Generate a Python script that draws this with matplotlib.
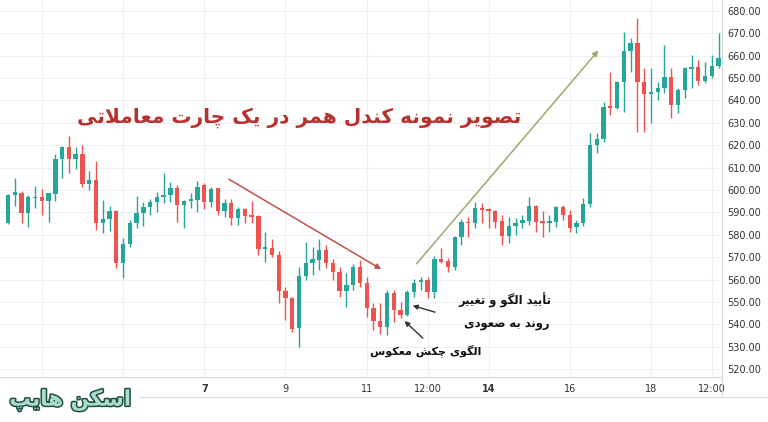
import matplotlib
matplotlib.use("Agg")
import matplotlib.pyplot as plt
import matplotlib.patheffects as pe
from matplotlib.lines import Line2D

# 4h candles
opens = [585.4, 597.8, 598.8, 589.6, 596.3, 597.0, 595.1, 598.2, 613.7, 619.1,
         613.7, 616.1, 602.7, 604.5, 585.4, 586.9, 590.8, 567.3, 575.9, 585.1,
         589.6, 592.5, 594.8, 597.0, 597.8, 600.8, 593.3, 595.1, 595.5, 602.2,
         594.8, 600.8, 590.8, 594.3, 587.4, 591.4, 588.8, 588.4, 573.7, 574.0,
         571.0, 554.9, 551.9, 538.3, 561.8, 567.6, 568.9, 573.2, 567.6, 563.5,
         554.9, 557.6, 565.5, 558.6, 547.2, 541.7, 539.0, 554.2, 546.5, 544.2,
         554.6, 559.1, 559.8, 554.6, 569.1, 568.5, 565.5, 579.2, 585.9, 585.1,
         591.8, 591.4, 590.8, 586.3, 579.5, 583.9, 585.1, 586.3, 592.9, 585.9,
         585.4, 585.9, 592.3, 588.8, 583.3, 585.4, 593.7, 620.1, 622.6, 637.2,
         636.7, 648.1, 662.0, 665.5, 648.3, 643.0, 643.6, 645.6, 650.6, 637.9,
         644.6, 654.0, 655.0, 648.6, 651.0, 655.5]
highs = [598.0, 605.2, 599.5, 597.8, 601.8, 600.3, 598.8, 616.1, 619.5, 624.1,
         619.1, 620.1, 608.6, 613.1, 595.5, 592.9, 591.0, 578.4, 586.6, 597.3,
         594.8, 595.8, 599.2, 607.7, 603.7, 602.2, 595.5, 598.5, 604.1, 603.0,
         601.5, 601.0, 595.8, 595.8, 592.5, 591.8, 595.2, 588.6, 581.4, 578.0,
         572.9, 556.8, 552.0, 565.5, 576.9, 574.7, 578.0, 575.5, 569.1, 565.5,
         563.1, 567.0, 568.8, 561.0, 549.4, 549.4, 555.4, 555.4, 550.2, 555.4,
         560.1, 561.3, 561.0, 570.5, 574.0, 569.5, 579.5, 586.9, 588.1, 594.8,
         594.1, 591.8, 591.0, 588.8, 588.1, 587.4, 588.8, 597.0, 593.3, 590.8,
         588.8, 592.9, 593.3, 591.1, 586.6, 596.3, 625.3, 625.3, 639.4, 652.8,
         648.6, 670.6, 667.7, 676.6, 654.3, 654.3, 648.3, 664.7, 654.3, 645.4,
         655.0, 660.2, 658.0, 657.2, 660.2, 670.0]
lows = [585.0, 592.9, 585.1, 583.4, 591.8, 588.8, 585.9, 595.0, 605.2, 607.4,
        609.2, 601.2, 600.0, 582.1, 580.9, 581.8, 565.1, 560.6, 574.4, 582.9,
        583.9, 588.8, 590.3, 594.1, 594.8, 585.9, 582.9, 591.8, 590.3, 591.4,
        592.5, 588.8, 588.1, 584.4, 584.4, 585.1, 585.1, 571.0, 568.0, 570.2,
        549.4, 542.0, 536.8, 530.1, 560.0, 562.0, 564.3, 565.1, 560.0, 552.1,
        547.9, 555.4, 556.8, 543.5, 537.5, 535.7, 535.3, 541.2, 542.7, 543.8,
        552.4, 555.4, 551.7, 551.7, 567.3, 563.5, 564.3, 575.5, 579.2, 582.9,
        585.1, 582.9, 582.9, 575.5, 576.2, 580.0, 582.9, 584.4, 581.4, 579.2,
        581.4, 583.6, 586.6, 581.4, 580.7, 583.9, 592.5, 616.4, 621.5, 633.5,
        636.1, 634.9, 652.8, 626.0, 626.0, 629.8, 640.2, 643.1, 632.0, 634.2,
        640.9, 645.4, 646.8, 647.6, 649.8, 654.3]
closes = [597.8, 599.0, 589.6, 596.7, 597.0, 595.1, 598.5, 613.7, 619.1, 613.7,
          616.1, 602.7, 604.5, 585.4, 586.9, 590.8, 567.3, 575.9, 585.1, 589.6,
          592.5, 594.8, 597.0, 597.8, 600.8, 593.3, 595.1, 595.8, 601.5, 594.8,
          600.4, 590.8, 594.3, 587.4, 591.4, 588.4, 588.1, 573.7, 574.2, 571.0,
          554.9, 551.9, 538.0, 561.8, 567.6, 569.2, 573.2, 567.6, 563.5, 554.9,
          557.6, 565.5, 558.6, 547.2, 541.7, 538.6, 554.2, 546.5, 544.2, 554.6,
          558.6, 559.8, 554.6, 569.1, 568.0, 565.5, 579.2, 585.9, 585.1, 591.8,
          591.0, 590.6, 585.9, 579.5, 583.9, 585.4, 586.6, 592.9, 585.9, 585.4,
          586.3, 592.3, 588.8, 582.9, 585.4, 593.7, 620.1, 622.6, 637.2, 636.7,
          648.1, 662.0, 665.5, 648.3, 642.7, 643.8, 645.6, 650.6, 637.9, 644.6,
          654.3, 655.0, 648.6, 651.0, 655.5, 659.0]

tick_pos = [29, 41, 53, 62, 71, 83, 95, 104]
tick_labels = ['7', '9', '11', '12:00', '14', '16', '18', '12:00']
bold_ticks = ['7', '14']
y_ticks = list(range(520, 690, 10))

title_text = 'تصویر نمونه کندل همر در یک چارت معاملاتی'
confirm_text = 'تأیید الگو و تغییر'
trend_text = 'روند به صعودی'
hammer_text = 'الگوی چکش معکوس'
logo_text = 'اسکن هایپ'

# minimal persian shaping (matplotlib has no text shaping)
FORMS = {
    'ا': ('\uFE8D', '\uFE8E', None, None),
    'أ': ('\uFE83', '\uFE84', None, None),
    'ب': ('\uFE8F', '\uFE90', '\uFE91', '\uFE92'),
    'ت': ('\uFE95', '\uFE96', '\uFE97', '\uFE98'),
    'د': ('\uFEA9', '\uFEAA', None, None),
    'ر': ('\uFEAD', '\uFEAE', None, None),
    'س': ('\uFEB1', '\uFEB2', '\uFEB3', '\uFEB4'),
    'ش': ('\uFEB5', '\uFEB6', '\uFEB7', '\uFEB8'),
    'ص': ('\uFEB9', '\uFEBA', '\uFEBB', '\uFEBC'),
    'ع': ('\uFEC9', '\uFECA', '\uFECB', '\uFECC'),
    'غ': ('\uFECD', '\uFECE', '\uFECF', '\uFED0'),
    'ل': ('\uFEDD', '\uFEDE', '\uFEDF', '\uFEE0'),
    'م': ('\uFEE1', '\uFEE2', '\uFEE3', '\uFEE4'),
    'ن': ('\uFEE5', '\uFEE6', '\uFEE7', '\uFEE8'),
    'ه': ('\uFEE9', '\uFEEA', '\uFEEB', '\uFEEC'),
    'و': ('\uFEED', '\uFEEE', None, None),
    'پ': ('\uFB56', '\uFB57', '\uFB58', '\uFB59'),
    'چ': ('\uFB7A', '\uFB7B', '\uFB7C', '\uFB7D'),
    'ک': ('\uFB8E', '\uFB8F', '\uFB90', '\uFB91'),
    'گ': ('\uFB92', '\uFB93', '\uFB94', '\uFB95'),
    'ی': ('\uFBFC', '\uFBFD', '\uFBFE', '\uFBFF'),
}
LAM_ALEF = {'ا': ('\uFEFB', '\uFEFC'), 'أ': ('\uFEF7', '\uFEF8')}


def joins_next(c):
    return c in FORMS and FORMS[c][2] is not None


def shape(text):
    out = []
    i = 0
    while i < len(text):
        c = text[i]
        if c not in FORMS:
            out.append(c)
            i += 1
            continue
        jp = i > 0 and joins_next(text[i - 1])
        nxt = text[i + 1] if i + 1 < len(text) else None
        if c == 'ل' and nxt in LAM_ALEF:
            out.append(LAM_ALEF[nxt][1] if jp else LAM_ALEF[nxt][0])
            i += 2
            continue
        jn = joins_next(c) and nxt in FORMS
        iso, fin, ini, med = FORMS[c]
        if jp and jn:
            out.append(med)
        elif jp:
            out.append(fin)
        elif jn:
            out.append(ini)
        else:
            out.append(iso)
        i += 1
    return ''.join(reversed(out))


UP = '#26a69a'
DOWN = '#ef5350'
GRID = '#eef0f4'
AXIS = '#d6d9e0'
NARROW = ['Liberation Sans Narrow', 'DejaVu Sans']

fig = plt.figure(figsize=(7.68, 4.22), dpi=100)
ax = fig.add_axes([0, 1 - 377 / 422, 722 / 768, 377 / 422])

x = list(range(len(opens)))
colors = [UP if c >= o else DOWN for o, c in zip(opens, closes)]
bottoms = [min(o, c) for o, c in zip(opens, closes)]
heights = [max(abs(c - o), 0.7) for o, c in zip(opens, closes)]

ax.vlines(x, lows, highs, colors=colors, linewidth=1, zorder=2)
ax.bar(x, heights, bottom=bottoms, width=0.64, color=colors, zorder=3)

ax.set_xlim(-1.18, 105.5)
ax.set_ylim(516.5, 684.8)

ax.yaxis.tick_right()
ax.set_yticks(y_ticks)
ax.set_yticklabels(['%.2f' % v for v in y_ticks], fontfamily=NARROW,
                   fontsize=7, color='#333333')
ax.set_xticks(tick_pos)
ax.set_xticklabels(tick_labels, fontfamily=NARROW, fontsize=7, color='#333333')
for lab in ax.get_xticklabels():
    if lab.get_text() in bold_ticks:
        lab.set_fontweight('bold')
ax.tick_params(axis='both', length=0)
ax.tick_params(axis='x', pad=5)
ax.tick_params(axis='y', pad=4)

ax.grid(axis='y', color=GRID, linewidth=0.8, zorder=0)
for gx in [5, 17] + tick_pos:
    ax.axvline(gx, color=GRID, linewidth=0.8, zorder=0)
for s in ['top', 'left']:
    ax.spines[s].set_visible(False)
for s in ['right', 'bottom']:
    ax.spines[s].set_color(AXIS)
    ax.spines[s].set_linewidth(0.8)

fig.add_artist(Line2D([140 / 768, 1], [1 - 397 / 422] * 2, color=AXIS, lw=0.8))
fig.add_artist(Line2D([722 / 768] * 2, [1 - 397 / 422, 1 - 377 / 422],
                      color=AXIS, lw=0.8))

# trend arrows
ax.annotate('', xy=(55.5, 564.0), xytext=(32.3, 605.4),
            arrowprops=dict(arrowstyle='-|>', color='#c0504d', lw=1.1,
                            mutation_scale=8))
ax.annotate('', xy=(87.5, 663.2), xytext=(60.1, 566.1),
            arrowprops=dict(arrowstyle='-|>', color='#9aab6c', lw=1.1,
                            mutation_scale=8))
ax.annotate('', xy=(59.4, 548.7), xytext=(63.5, 545.1),
            arrowprops=dict(arrowstyle='-|>', color='#333333', lw=1,
                            mutation_scale=7))
ax.annotate('', xy=(58.3, 542.3), xytext=(61.6, 533.0),
            arrowprops=dict(arrowstyle='-|>', color='#333333', lw=1,
                            mutation_scale=7))

ax.text(43.1, 632.1, shape(title_text), fontsize=14.5, fontweight='bold',
        color='#b8312f', ha='center', va='center', fontfamily='DejaVu Sans')
ax.text(73.4, 550.9, shape(confirm_text), fontsize=8.3, fontweight='bold',
        color='#111111', ha='center', va='center', fontfamily='DejaVu Sans')
ax.text(73.7, 540.0, shape(trend_text), fontsize=8.3, fontweight='bold',
        color='#111111', ha='center', va='center', fontfamily='DejaVu Sans')
ax.text(61.7, 528.4, shape(hammer_text), fontsize=8, fontweight='bold',
        color='#111111', ha='center', va='center', fontfamily='DejaVu Sans')

fig.text(70 / 768, 1 - 400 / 422, shape(logo_text), fontsize=15.5,
         fontweight='bold', color='#a9dcc9', ha='center', va='center',
         fontfamily='DejaVu Sans',
         path_effects=[pe.withStroke(linewidth=2.2, foreground='#1f4f43')])

fig.savefig('out.png', dpi=100)
